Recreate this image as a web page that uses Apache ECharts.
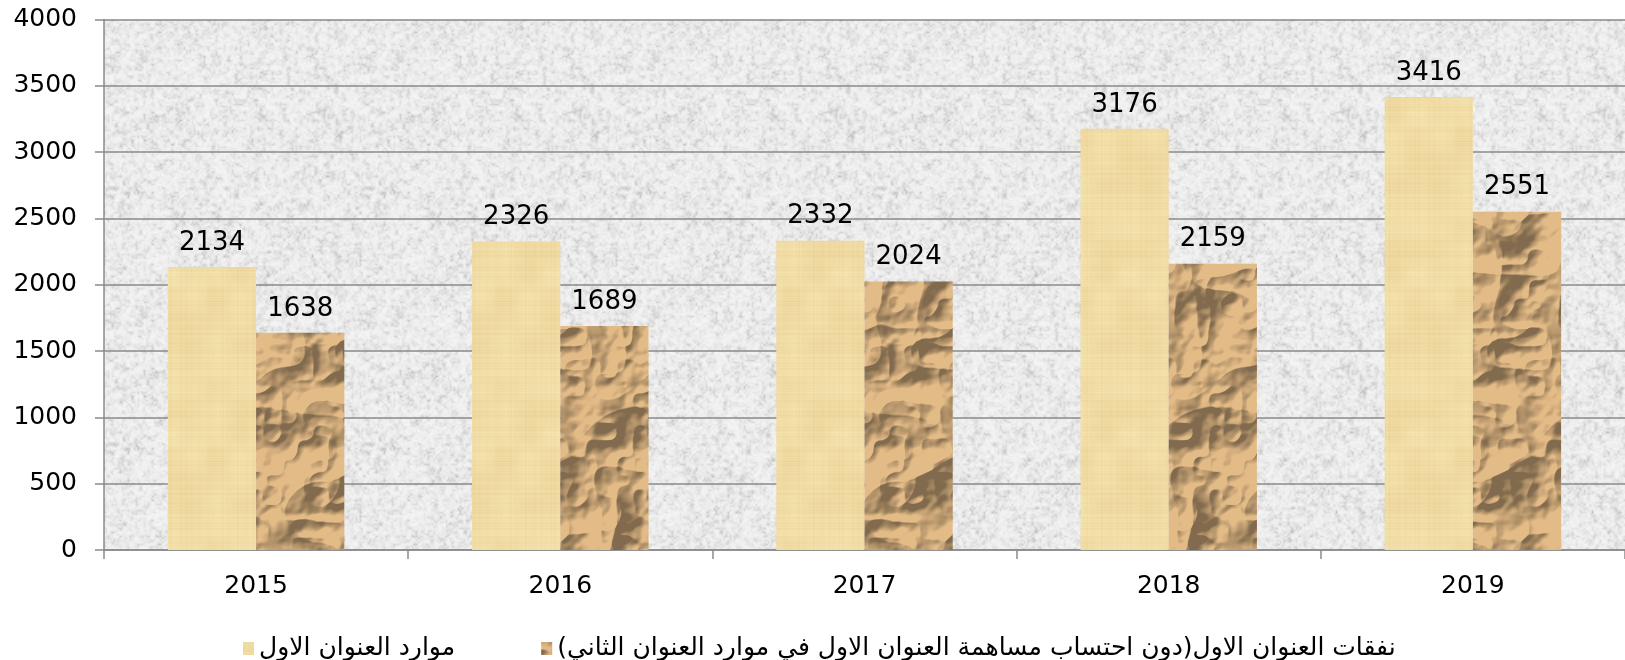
<!DOCTYPE html>
<html><head><meta charset="utf-8">
<script src="https://cdn.jsdelivr.net/npm/echarts@6/dist/echarts.min.js"></script>
<style>html,body{margin:0;padding:0;background:#fff}#c{width:1625px;height:660px}</style>
</head><body><div id="c"></div>
<script>
const categories = ['2015','2016','2017','2018','2019'];
const seriesNames = ['موارد العنوان الاول', 'نفقات العنوان الاول(دون احتساب مساهمة العنوان الاول في موارد العنوان الثاني)\u200F'];
const resources = [2134, 2326, 2332, 3176, 3416];
const expenses = [1638, 1689, 2024, 2159, 2551];
const yTicks = {min: 0, max: 4000, interval: 500};

// deterministic, tileable texture helpers (decoration only)
function rng(seed){return function(){seed|=0;seed=seed+0x6D2B79F5|0;let t=Math.imul(seed^seed>>>15,1|seed);t=t+Math.imul(t^t>>>7,61|t)^t;return((t^t>>>14)>>>0)/4294967296;};}
function valueNoise(w,h,cell,r){const gw=Math.round(w/cell),gh=Math.round(h/cell);const cx=w/gw,cy=h/gh;const g=[];for(let i=0;i<gw*gh;i++)g.push(r());
  const out=new Float32Array(w*h);for(let y=0;y<h;y++)for(let x=0;x<w;x++){const gx=x/cx,gy=y/cy,x0=Math.floor(gx),y0=Math.floor(gy),fx=gx-x0,fy=gy-y0;
  const sx=fx*fx*(3-2*fx),sy=fy*fy*(3-2*fy);const xa=x0%gw,xb=(x0+1)%gw,ya=y0%gh,yb=(y0+1)%gh;
  const a=g[ya*gw+xa],b=g[ya*gw+xb],c=g[yb*gw+xa],d=g[yb*gw+xb];
  out[y*w+x]=(a*(1-sx)+b*sx)*(1-sy)+(c*(1-sx)+d*sx)*sy;}return out;}
function makeCanvas(w,h,fn){const c=document.createElement('canvas');c.width=w;c.height=h;const ctx=c.getContext('2d');const img=ctx.createImageData(w,h);fn(img.data,w,h);ctx.putImageData(img,0,0);return c;}
const clamp=(v,a,b)=>Math.max(a,Math.min(b,v));

const granite = makeCanvas(256,256,(d,w,h)=>{const r=rng(7);const n1=valueNoise(w,h,2,r),n2=valueNoise(w,h,4,r),n3=valueNoise(w,h,16,r);
  for(let i=0;i<w*h;i++){let s=n1[i]*0.4+n2[i]*0.45+n3[i]*0.15;let v=241-Math.pow(clamp(1-s,0,1),3)*55+(s-0.5)*8;v=clamp(v,185,252);d[i*4]=v;d[i*4+1]=v;d[i*4+2]=v;d[i*4+3]=255;}});
const papyrus = makeCanvas(96,160,(d,w,h)=>{const r=rng(11);const col=[],row=[];for(let x=0;x<w;x++)col.push((r()-0.5)*6);for(let y=0;y<h;y++)row.push((r()-0.5)*7);
  const n=valueNoise(w,h,24,r);for(let y=0;y<h;y++)for(let x=0;x<w;x++){const i=y*w+x;const o=col[x]+row[y]+(n[i]-0.5)*10;
  d[i*4]=clamp(240+o*0.6,0,255);d[i*4+1]=clamp(220+o,0,255);d[i*4+2]=clamp(164+o*1.3,0,255);d[i*4+3]=255;}});
const crumpled = makeCanvas(192,320,(d,w,h)=>{const r=rng(23);const n1=valueNoise(w,h,64,r),n2=valueNoise(w,h,32,r),n3=valueNoise(w,h,16,r),n4=valueNoise(w,h,6,r);
  const H=new Float32Array(w*h);for(let i=0;i<w*h;i++){H[i]=Math.abs(n1[i]-0.5)*1.0+Math.abs(n2[i]-0.5)*0.6+Math.abs(n3[i]-0.5)*0.3+n4[i]*0.05;}
  for(let y=0;y<h;y++)for(let x=0;x<w;x++){const i=y*w+x;const xr=(x+1)%w,yd=(y+1)%h,xl=(x-1+w)%w,yu=(y-1+h)%h;
    const dx=H[y*w+xr]-H[y*w+xl],dy=H[yd*w+x]-H[yu*w+x];let s=1+(dx*-1.0+dy*-1.3)*6;s=clamp(s,0.66,1.16);
    d[i*4]=clamp(196*s,0,255);d[i*4+1]=clamp(161*s,0,255);d[i*4+2]=clamp(116*s,0,255);d[i*4+3]=255;}});

const FONT = 'DejaVu Sans';
const chart = echarts.init(document.getElementById('c'), null, {renderer:'canvas'});
chart.setOption({
  animation:false,
  backgroundColor:'#ffffff',
  textStyle:{fontFamily:FONT},
  grid:{left:104, top:19.5, right:0, bottom:110, show:true, borderWidth:0, backgroundColor:{image:granite, repeat:'repeat'}},
  legend:{
    left:238, top:631, itemGap:86, itemWidth:11, itemHeight:13, icon:'rect',
    textStyle:{fontFamily:FONT, fontSize:25, color:'#000'},
    data:seriesNames
  },
  xAxis:{
    type:'category', data:categories,
    axisLine:{lineStyle:{color:'#8a8a8a', width:1.5}},
    axisTick:{show:true, length:9, lineStyle:{color:'#8a8a8a', width:1.5}},
    axisLabel:{fontSize:25, color:'#000', margin:24, fontFamily:FONT}
  },
  yAxis:{
    type:'value', min:yTicks.min, max:yTicks.max, interval:yTicks.interval,
    axisLine:{show:true, lineStyle:{color:'#8a8a8a', width:1.5}},
    axisTick:{show:true, length:9, lineStyle:{color:'#8a8a8a', width:1.5}},
    splitLine:{lineStyle:{color:'#8a8a8a', width:1.5}},
    axisLabel:{fontSize:25, color:'#000', margin:27, fontFamily:FONT, formatter:v=>String(v)}
  },
  series:[
    {name:seriesNames[0], type:'bar', data:resources, barGap:'0%', barCategoryGap:'42%',
     itemStyle:{color:{image:papyrus, repeat:'repeat'}},
     label:{show:true, position:'top', distance:11, fontSize:26, color:'#000', fontFamily:FONT}},
    {name:seriesNames[1], type:'bar', data:expenses, barGap:'0%', barCategoryGap:'42%',
     itemStyle:{color:{image:crumpled, repeat:'repeat'}},
     label:{show:true, position:'top', distance:11, fontSize:26, color:'#000', fontFamily:FONT}}
  ]
});
</script></body></html>
